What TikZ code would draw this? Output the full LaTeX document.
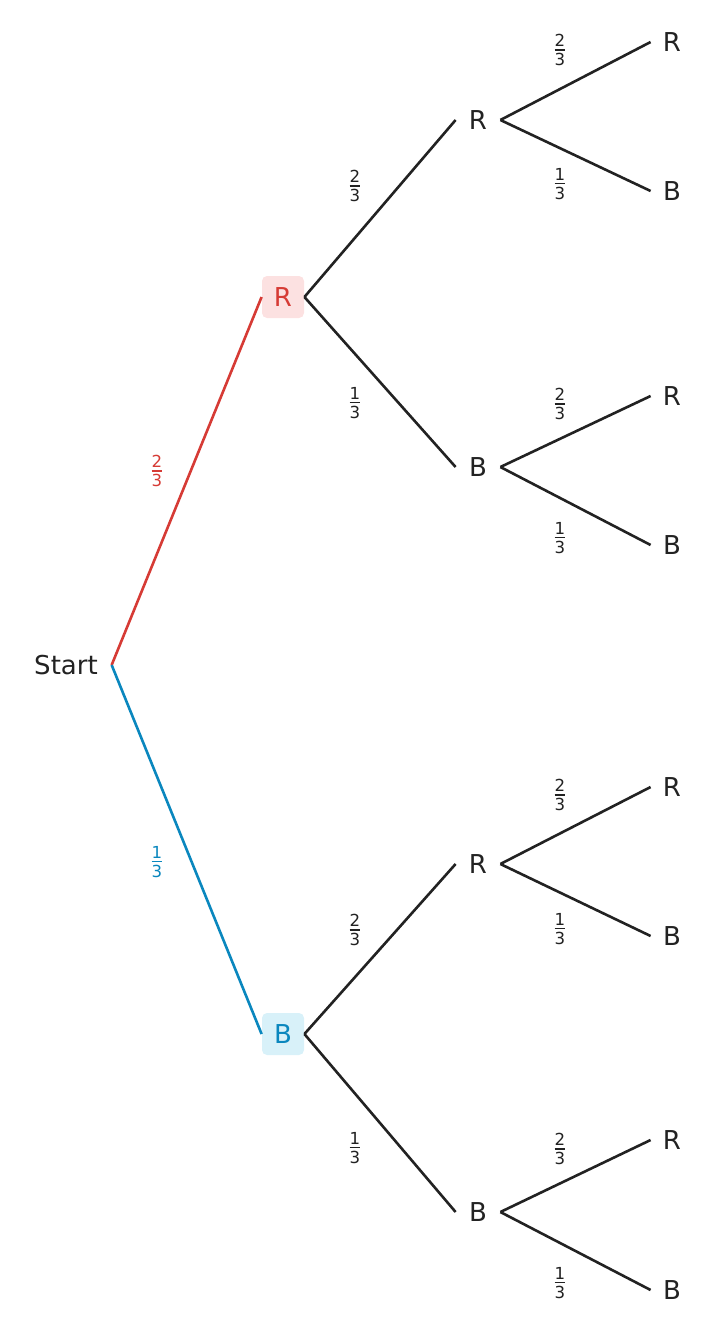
\documentclass[tikz,border=0pt]{standalone}
\usepackage{fontspec}
\setmainfont{DejaVu Sans}
\definecolor{ink}{HTML}{222222}
\definecolor{redc}{HTML}{D63B35}
\definecolor{bluec}{HTML}{0A87BE}
\definecolor{redf}{HTML}{FCE1E1}
\definecolor{bluef}{HTML}{D8F1F9}
\newcommand\fr[2]{\vbox{\offinterlineskip\halign{\hfil##\hfil\cr #1\cr\noalign{\vskip1.2pt\hrule height 0.9pt\vskip1.4pt}#2\cr}}}
\begin{document}
\begin{tikzpicture}[x=0.5pt,y=-0.5pt,
  lbl/.style={font=\fontsize{13}{15}\selectfont,text=ink,inner sep=0pt,minimum height=21pt},
  lvltwo/.style={lbl,minimum width=22pt},
  lvlthree/.style={lbl,minimum width=21pt},
  redbox/.style={lbl,text=redc,fill=redf,rounded corners=2.5pt,minimum width=21pt,minimum height=21pt},
  bluebox/.style={lbl,text=bluec,fill=bluef,rounded corners=2.5pt,minimum width=21pt,minimum height=21pt},
  prob/.style={font=\fontsize{8.3}{10}\selectfont,text=ink,inner sep=0pt},
  edge/.style={line width=1.3pt,draw=ink},
  rededge/.style={line width=1.3pt,draw=redc},
  blueedge/.style={line width=1.3pt,draw=bluec}]
\useasboundingbox (0,0) rectangle (715,1333);
% nodes
\node[lbl,inner xsep=6.75pt] (start) at (66,665) {Start};
\node[redbox] (r) at (283,297) {R};
\node[bluebox] (b) at (283,1034) {B};
\node[lvltwo] (rr) at (478,120) {R};
\node[lvltwo] (rb) at (478,467) {B};
\node[lvltwo] (br) at (478,864) {R};
\node[lvltwo] (bb) at (478,1212) {B};
\node[lvlthree] (rrr) at (672,42) {R};
\node[lvlthree] (rrb) at (672,191) {B};
\node[lvlthree] (rbr) at (672,396) {R};
\node[lvlthree] (rbb) at (672,545) {B};
\node[lvlthree] (brr) at (672,787) {R};
\node[lvlthree] (brb) at (672,936) {B};
\node[lvlthree] (bbr) at (672,1140) {R};
\node[lvlthree] (bbb) at (672,1290) {B};
% edges
\draw[rededge] (start.east) -- (r.west);
\draw[blueedge] (start.east) -- (b.west);
\draw[edge] (r.east) -- (rr.west);
\draw[edge] (r.east) -- (rb.west);
\draw[edge] (b.east) -- (br.west);
\draw[edge] (b.east) -- (bb.west);
\draw[edge] (rr.east) -- (rrr.west);
\draw[edge] (rr.east) -- (rrb.west);
\draw[edge] (rb.east) -- (rbr.west);
\draw[edge] (rb.east) -- (rbb.west);
\draw[edge] (br.east) -- (brr.west);
\draw[edge] (br.east) -- (brb.west);
\draw[edge] (bb.east) -- (bbr.west);
\draw[edge] (bb.east) -- (bbb.west);
% probabilities
\node[prob,text=redc] (p1) at (157,471) {\fr{2}{3}};
\node[prob,text=bluec] (p2) at (157,862) {\fr{1}{3}};
\node[prob] (p3) at (355,186) {\fr{2}{3}};
\node[prob] (p4) at (355,403) {\fr{1}{3}};
\node[prob] (p5) at (355,930) {\fr{2}{3}};
\node[prob] (p6) at (355,1148) {\fr{1}{3}};
\node[prob] (p7) at (560,50) {\fr{2}{3}};
\node[prob] (p8) at (560,184) {\fr{1}{3}};
\node[prob] (p9) at (560,404) {\fr{2}{3}};
\node[prob] (p10) at (560,538) {\fr{1}{3}};
\node[prob] (p11) at (560,795) {\fr{2}{3}};
\node[prob] (p12) at (560,929) {\fr{1}{3}};
\node[prob] (p13) at (560,1149) {\fr{2}{3}};
\node[prob] (p14) at (560,1283) {\fr{1}{3}};
\end{tikzpicture}
\end{document}
